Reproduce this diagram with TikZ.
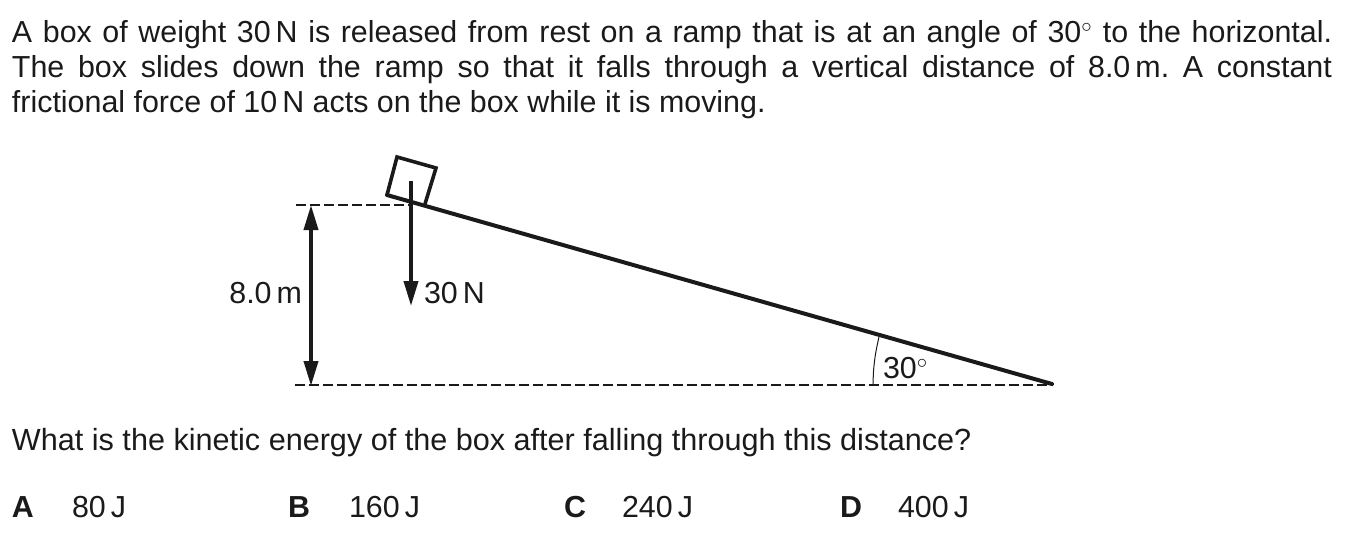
\documentclass[tikz,border=0pt]{standalone}
\usepackage{fontspec}
\setmainfont{Liberation Sans}
\usetikzlibrary{positioning,calc,arrows.meta}
\definecolor{inkcol}{HTML}{1A1A1A}
\frenchspacing
\tikzset{
    every node/.style={inner sep=0pt, outer sep=0pt, font=\fontsize{30.4}{35.4}\selectfont},
    textline/.style={anchor=base west},
    label/.style={anchor=base west},
    guideline/.style={line width=1.3pt, dash pattern=on 9.6pt off 4.4pt},
    rampline/.style={line width=4pt, line cap=round},
    boxline/.style={line width=3.6pt, line join=miter},
    forcearrow/.style={line width=3.8pt, -{Triangle[length=25pt,width=14pt]}},
    heightarrow/.style={line width=3.8pt, {Triangle[length=25pt,width=14pt]}-{Triangle[length=25pt,width=14pt]}},
}
\begin{document}
\begin{tikzpicture}[x=1pt,y=-1pt,color=inkcol]
    \useasboundingbox (0,0) rectangle (1346,535);
    % question text
    \node [anchor=north west, text width=1320pt, align=justify] (intro) at (12,20) {A box of weight 30\,N is released from rest on a ramp that is at an angle of 30$^\circ$ to the horizontal.\linebreak The box slides down the ramp so that it falls through a vertical distance of 8.0\,m. A constant\linebreak frictional force of 10\,N acts on the box while it is moving.};
    \node [textline, font=\fontsize{30.6}{35.4}\selectfont] (question) at (12,450) {What is the kinetic energy of the box after falling through this distance?};

    % ramp and box
    \coordinate (rampTop) at (387,195);
    \coordinate (rampEnd) at (1052,384);
    \coordinate (boxA) at (397,157);
    \coordinate (boxB) at (436,168);
    \coordinate (boxC) at (425,204);
    \draw [rampline] (rampTop) -- (rampEnd);
    \draw [boxline] (rampTop) -- (boxA) -- (boxB) -- (boxC);

    % dashed levels
    \coordinate (topLeft) at (296,205);
    \coordinate (topRight) at (413,205);
    \coordinate (baseLeft) at (295,385);
    \coordinate (baseRight) at (1052,385);
    \draw [guideline] (topLeft) -- (topRight);
    \draw [guideline] (baseLeft) -- (baseRight);

    % height and weight arrows
    \coordinate (heightTop) at (311,205);
    \coordinate (heightBase) at (311,386);
    \coordinate (forceStart) at (411,181);
    \coordinate (forceEnd) at (411,306);
    \draw [heightarrow] (heightTop) -- (heightBase);
    \draw [forcearrow] (forceStart) -- (forceEnd);

    % angle mark
    \coordinate (angleTop) at (879,337);
    \coordinate (angleBase) at (873,385);
    \draw [line width=1pt] (angleBase) to[bend left=6] (angleTop);

    % labels
    \node [anchor=base east] (heightLabel) at (302,303) {8.0\,m};
    \node [label] (forceLabel) at (424,303) {30\,N};
    \node [label] (angleLabel) at (883,378) {30$^\circ$};

    % answers
    \node [label] (optA) at (12,517) {\textbf{A}};
    \node [label] (valA) at (72,517) {80\,J};
    \node [label] (optB) at (288,517) {\textbf{B}};
    \node [label] (valB) at (349,517) {160\,J};
    \node [label] (optC) at (564,517) {\textbf{C}};
    \node [label] (valC) at (622,517) {240\,J};
    \node [label] (optD) at (840,517) {\textbf{D}};
    \node [label] (valD) at (898,517) {400\,J};
\end{tikzpicture}
\end{document}
